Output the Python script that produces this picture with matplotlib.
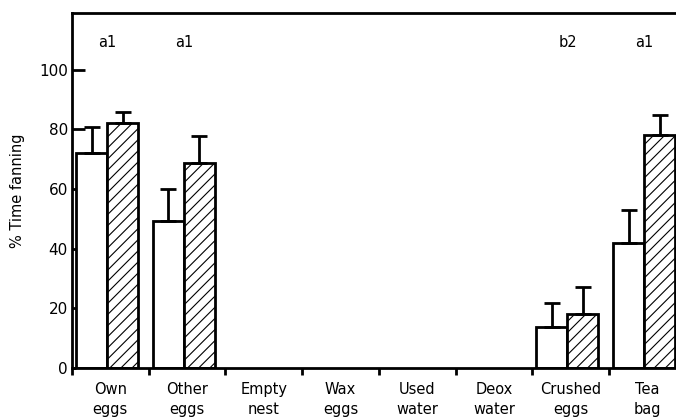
import numpy as np
import matplotlib
matplotlib.use("Agg")
import matplotlib.pyplot as plt

plt.rcParams['font.family'] = ['DejaVu Sans']
plt.rcParams['hatch.linewidth'] = 0.8

categories = ["Own\neggs", "Other\neggs", "Empty\nnest", "Wax\neggs",
              "Used\nwater", "Deox\nwater", "Crushed\neggs", "Tea\nbag"]
open_vals = [72.1, 49.4, 0, 0, 0, 0, 13.6, 41.8]
open_err = [8.8, 10.6, 0, 0, 0, 0, 8.1, 11.2]
hatched_vals = [82.2, 68.8, 0, 0, 0, 0, 18.2, 78.2]
hatched_err = [3.7, 9.1, 0, 0, 0, 0, 9.0, 6.7]
sig_labels = ["a1", "a1", "", "", "", "", "b2", "a1"]
yticks = [0, 20, 40, 60, 80, 100]

W, H = 676, 418
fig = plt.figure(figsize=(W / 100, H / 100), dpi=100)
ax = fig.add_axes([72 / W, 50 / H, (676 - 72) / W, 355 / H])

x = np.arange(len(categories))
bw = 0.404
shift = -0.04

for i in x:
    c = i + shift
    if open_vals[i] > 0:
        ax.bar(c - bw / 2, open_vals[i], width=bw, facecolor="white",
               edgecolor="black", linewidth=2, zorder=2)
        ax.errorbar(c - bw / 2, open_vals[i], yerr=[[0], [open_err[i]]],
                    fmt="none", ecolor="black", elinewidth=2, capsize=6,
                    capthick=2, zorder=3)
    if hatched_vals[i] > 0:
        ax.bar(c + bw / 2, hatched_vals[i], width=bw, facecolor="white",
               edgecolor="black", linewidth=2, hatch="///", zorder=2)
        ax.errorbar(c + bw / 2, hatched_vals[i], yerr=[[0], [hatched_err[i]]],
                    fmt="none", ecolor="black", elinewidth=2, capsize=6,
                    capthick=2, zorder=3)
    if sig_labels[i]:
        ax.text(c, 109, sig_labels[i], ha="center", va="center",
                fontsize=10.5, color="black")

ax.set_xlim(-0.5, -0.5 + (676 - 72) / 76.7)
ax.set_ylim(0, 119)

# category boundaries carry the ticks, names sit centred in each slot
ax.set_xticks(np.arange(len(categories)) - 0.5)
ax.set_xticklabels([])
ax.set_xticks(x, minor=True)
ax.set_xticklabels(categories, minor=True, fontsize=10.5, linespacing=1.4)
ax.tick_params(axis="x", which="major", direction="out", length=5, width=2)
ax.tick_params(axis="x", which="minor", length=0, pad=10)

ax.set_yticks(yticks)
ax.set_yticklabels([str(v) for v in yticks], fontsize=11)
ax.tick_params(axis="y", direction="in", length=3, width=2, pad=3)
for t, v in zip(ax.yaxis.get_major_ticks(), yticks):
    if v >= 80:
        t.tick1line.set_markersize(9)

ax.set_ylabel("% Time fanning", fontsize=10.5, labelpad=10)

for side in ("left", "bottom", "top"):
    ax.spines[side].set_linewidth(2)
ax.spines["right"].set_visible(False)

fig.savefig("out.png", dpi=100)
